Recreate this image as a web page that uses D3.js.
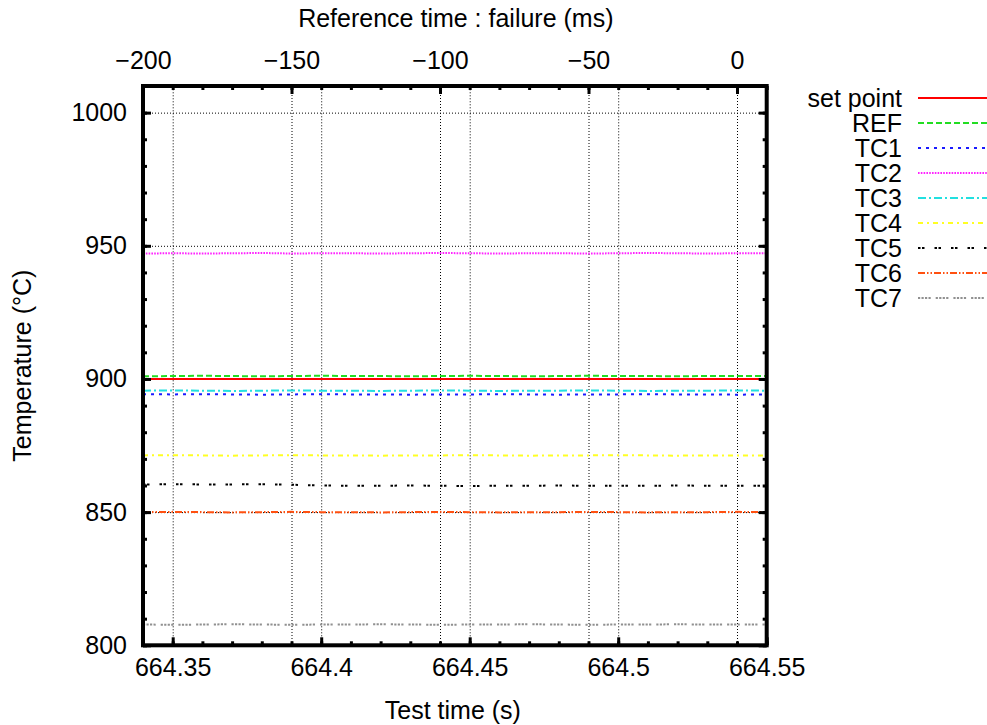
<!DOCTYPE html>
<html>
<head>
<meta charset="utf-8">
<script src="https://cdn.jsdelivr.net/npm/d3@7"></script>
<style>
  html, body { margin: 0; padding: 0; background: #fff; }
  svg { display: block; font-family: "Liberation Sans", Arial, sans-serif; }
</style>
</head>
<body>
<svg id="chart" width="987" height="725"></svg>
<script>
// ---------------- data ----------------
const times = [664.34, 664.35, 664.36, 664.37, 664.38, 664.39, 664.40, 664.41, 664.42, 664.43, 664.44,
               664.45, 664.46, 664.47, 664.48, 664.49, 664.50, 664.51, 664.52, 664.53, 664.54, 664.55];
const setPoint = [900, 900, 900, 900, 900, 900, 900, 900, 900, 900, 900,
                  900, 900, 900, 900, 900, 900, 900, 900, 900, 900, 900];
const ref = [901.0, 901.1, 901.2, 901.1, 901.0, 901.1, 901.2, 901.1, 901.1, 901.0, 901.1,
             901.2, 901.1, 901.0, 901.1, 901.2, 901.1, 901.1, 901.0, 901.1, 901.1, 901.1];
const tc1 = [894.3, 894.2, 894.3, 894.2, 894.1, 894.2, 894.3, 894.2, 894.2, 894.1, 894.2,
             894.2, 894.3, 894.2, 894.1, 894.2, 894.2, 894.3, 894.2, 894.2, 894.1, 894.2];
const tc2 = [947.1, 947.2, 947.1, 947.2, 947.3, 947.1, 947.2, 947.2, 947.1, 947.2, 947.3,
             947.2, 947.1, 947.2, 947.2, 947.1, 947.2, 947.3, 947.2, 947.1, 947.2, 947.2];
const tc3 = [895.6, 895.7, 895.6, 895.5, 895.6, 895.7, 895.6, 895.6, 895.5, 895.6, 895.7,
             895.6, 895.5, 895.6, 895.6, 895.7, 895.6, 895.5, 895.6, 895.6, 895.7, 895.6];
const tc4 = [871.3, 871.4, 871.3, 871.2, 871.3, 871.4, 871.3, 871.3, 871.2, 871.3, 871.3,
             871.4, 871.3, 871.2, 871.3, 871.3, 871.4, 871.3, 871.2, 871.3, 871.3, 871.3];
const tc5 = [860.4, 860.5, 860.4, 860.4, 860.5, 860.3, 860.0, 859.9, 859.9, 860.0, 859.9,
             859.8, 859.9, 859.9, 860.0, 859.9, 859.9, 859.9, 860.0, 859.9, 859.9, 859.9];
const tc6 = [850.0, 850.1, 850.0, 849.9, 850.0, 850.1, 850.0, 850.0, 849.9, 850.0, 850.1,
             850.0, 849.9, 850.0, 850.0, 850.1, 850.0, 849.9, 850.0, 850.0, 850.1, 850.0];
const tc7 = [807.8, 807.7, 807.8, 807.9, 807.8, 807.7, 807.8, 807.8, 807.9, 807.8, 807.7,
             807.8, 807.8, 807.9, 807.8, 807.7, 807.8, 807.8, 807.9, 807.8, 807.8, 807.8];

const seriesNames = ["set point", "REF", "TC1", "TC2", "TC3", "TC4", "TC5", "TC6", "TC7"];
const seriesValues = [setPoint, ref, tc1, tc2, tc3, tc4, tc5, tc6, tc7];
const seriesColors = ["#ff0000", "#22dd22", "#1a1aff", "#ff22ff", "#22e0e0", "#ffff22", "#000000", "#ff5010", "#909090"];
const seriesDashes = [null, "6,3", "3,5", "1.6,1.2", "8,3,2,3", "5,4,2,4", "2.5,1.5,2.5,10", "7,2,1.5,2,1.5,2", "2.2,1.3,2.2,1.3,2.2,1.3,2.2,5"];

const xMajorTicks = [664.35, 664.40, 664.45, 664.50, 664.55];
const xMinorTicks = [664.34, 664.35, 664.36, 664.37, 664.38, 664.39, 664.40, 664.41, 664.42, 664.43, 664.44,
                     664.45, 664.46, 664.47, 664.48, 664.49, 664.50, 664.51, 664.52, 664.53, 664.54, 664.55];
const x2MajorTicks = [-200, -150, -100, -50, 0];
const x2MinorTicks = [-200, -190, -180, -170, -160, -150, -140, -130, -120, -110, -100,
                      -90, -80, -70, -60, -50, -40, -30, -20, -10, 0, 10];
const yMajorTicks = [800, 850, 900, 950, 1000];
const yMinorTicks = [800, 810, 820, 830, 840, 850, 860, 870, 880, 890, 900,
                     910, 920, 930, 940, 950, 960, 970, 980, 990, 1000, 1010];

// ---------------- layout ----------------
const mLeft = 143, mTop = 86, W = 623.7, H = 559.3;
const fontSize = 25;

const svg = d3.select("#chart");
const g = svg.append("g").attr("transform", `translate(${mLeft},${mTop})`);

const x = d3.scaleLinear().domain([664.34, 664.55]).range([0, W]);
const x2 = d3.scaleLinear().domain([-200, 10]).range([0, W]);
const y = d3.scaleLinear().domain([800, 1010]).range([H, 0]);

const fmtMinus = d => (d < 0 ? "\u2212" + Math.abs(d) : String(d));

// ---------------- grid ----------------
const gridStyle = sel => {
  sel.select(".domain").remove();
  sel.selectAll(".tick line").attr("stroke", "#000").attr("stroke-width", 1).attr("stroke-dasharray", "1,2");
  sel.selectAll(".tick text").remove();
};
g.append("g").attr("transform", `translate(0,${H})`)
  .call(d3.axisBottom(x).tickValues(xMajorTicks.filter(v => v < 664.545)).tickSize(-H).tickFormat(""))
  .call(gridStyle);
g.append("g")
  .call(d3.axisTop(x2).tickValues(x2MajorTicks.filter(v => v > -199)).tickSize(-H).tickFormat(""))
  .call(gridStyle);
g.append("g")
  .call(d3.axisLeft(y).tickValues(yMajorTicks.filter(v => v > 801)).tickSize(-W).tickFormat(""))
  .call(gridStyle);

// ---------------- series ----------------
const line = d3.line().x((d, i) => x(times[i])).y(d => y(d));
svg.append("defs").append("clipPath").attr("id", "clip")
  .append("rect").attr("x", 0).attr("y", 0).attr("width", W).attr("height", H);

const seriesG = g.append("g").attr("clip-path", "url(#clip)");
seriesValues.forEach((vals, k) => {
  seriesG.append("path")
    .datum(vals)
    .attr("d", line)
    .attr("fill", "none")
    .attr("stroke", seriesColors[k])
    .attr("stroke-width", 2)
    .attr("stroke-dasharray", seriesDashes[k]);
});

// ---------------- axes ----------------
const tickStyle = (sel, w) => {
  sel.select(".domain").remove();
  sel.selectAll(".tick line").attr("stroke", "#000").attr("stroke-width", w);
  sel.selectAll(".tick text")
    .attr("font-size", fontSize)
    .attr("fill", "#000")
    .attr("font-family", "'Liberation Sans', Arial, sans-serif");
};

// bottom
g.append("g").attr("transform", `translate(0,${H})`)
  .call(d3.axisBottom(x).tickValues(xMinorTicks).tickSize(-4).tickFormat(""))
  .call(s => tickStyle(s, 3));
g.append("g").attr("transform", `translate(0,${H})`)
  .call(d3.axisBottom(x).tickValues(xMajorTicks).tickSize(-8).tickPadding(13).tickFormat(d => String(+d.toFixed(2))))
  .call(s => tickStyle(s, 3));
// top
g.append("g")
  .call(d3.axisTop(x2).tickValues(x2MinorTicks).tickSize(-4).tickFormat(""))
  .call(s => tickStyle(s, 3));
g.append("g")
  .call(d3.axisTop(x2).tickValues(x2MajorTicks).tickSize(-8).tickPadding(17).tickFormat(fmtMinus))
  .call(s => tickStyle(s, 3));
// left
g.append("g")
  .call(d3.axisLeft(y).tickValues(yMinorTicks).tickSize(-4).tickFormat(""))
  .call(s => tickStyle(s, 3));
g.append("g")
  .call(d3.axisLeft(y).tickValues(yMajorTicks).tickSize(-8).tickPadding(16).tickFormat(d => String(d)))
  .call(s => tickStyle(s, 3));
// right (mirror)
g.append("g").attr("transform", `translate(${W},0)`)
  .call(d3.axisRight(y).tickValues(yMinorTicks).tickSize(-4).tickFormat(""))
  .call(s => tickStyle(s, 3));
g.append("g").attr("transform", `translate(${W},0)`)
  .call(d3.axisRight(y).tickValues(yMajorTicks).tickSize(-8).tickFormat(""))
  .call(s => tickStyle(s, 3));

// frame
g.append("rect").attr("x", 0).attr("y", 0).attr("width", W).attr("height", H)
  .attr("fill", "none").attr("stroke", "#000").attr("stroke-width", 4);

// ---------------- titles ----------------
svg.append("text").attr("x", mLeft + W / 2 - 2).attr("y", 719)
  .attr("text-anchor", "middle").attr("font-size", fontSize).text("Test time (s)");
svg.append("text").attr("x", mLeft + W / 2 + 1).attr("y", 27)
  .attr("text-anchor", "middle").attr("font-size", fontSize).text("Reference time : failure (ms)");
svg.append("text")
  .attr("transform", `translate(31,${mTop + H / 2}) rotate(-90)`)
  .attr("text-anchor", "middle").attr("font-size", fontSize).text("Temperature (\u00B0C)");

// ---------------- legend ----------------
const legend = svg.append("g").attr("transform", "translate(0,98)");
seriesNames.forEach((name, k) => {
  const row = legend.append("g").attr("transform", `translate(0,${k * 25})`);
  row.append("text").attr("x", 902).attr("y", 0).attr("dy", "0.35em")
    .attr("text-anchor", "end").attr("font-size", fontSize).text(name);
  row.append("line").attr("x1", 918).attr("x2", 992).attr("y1", 0).attr("y2", 0)
    .attr("stroke", seriesColors[k]).attr("stroke-width", 2)
    .attr("stroke-dasharray", seriesDashes[k]);
});
</script>
</body>
</html>
